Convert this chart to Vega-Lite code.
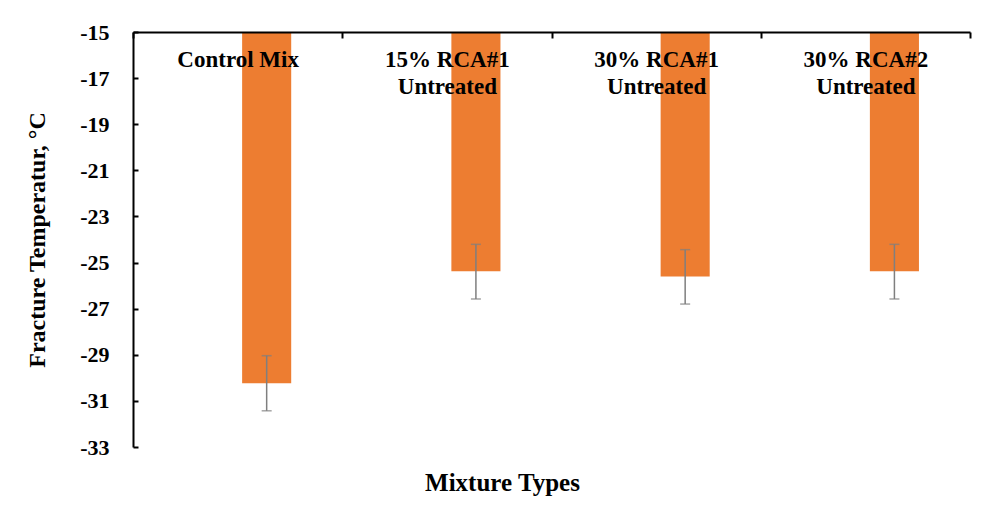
{
  "$schema": "https://vega.github.io/schema/vega-lite/v6.json",
  "autosize": "none",
  "width": 837,
  "height": 415,
  "padding": {"left": 133, "top": 32, "right": 14, "bottom": 60},
  "background": "white",
  "config": {"view": {"stroke": null}},
  "title": {"text": "Mixture Types", "orient": "bottom", "dx": -49, "offset": 13, "font": "Liberation Serif", "fontSize": 25, "fontWeight": "bold", "color": "black"},
  "data": {"values": [
    {"mixture": "Control Mix", "series": "Fracture", "temp": -30.24, "lo": -31.43, "hi": -29.04},
    {"mixture": "15% RCA#1\nUntreated", "series": "Fracture", "temp": -25.38, "lo": -26.58, "hi": -24.21},
    {"mixture": "30% RCA#1\nUntreated", "series": "Fracture", "temp": -25.61, "lo": -26.8, "hi": -24.44},
    {"mixture": "30% RCA#2\nUntreated", "series": "Fracture", "temp": -25.38, "lo": -26.58, "hi": -24.21}
  ]},
  "encoding": {
    "x": {"field": "mixture", "type": "nominal", "sort": null,
      "scale": {"paddingInner": 0, "paddingOuter": 0},
      "axis": {"orient": "top", "title": null, "zindex": 1, "domainColor": "black", "domainWidth": 2,
        "ticks": true, "tickBand": "extent", "tickColor": "black", "tickWidth": 2, "tickSize": -6,
        "labelAngle": 0, "labelBaseline": "top", "labelPadding": -10,
        "labelFont": "Liberation Serif", "labelFontSize": 23, "labelFontWeight": "bold", "labelColor": "black",
        "labelLineHeight": 27, "labelOverlap": false, "labelLimit": 0,
        "labelExpr": "split(datum.label, '\\n')"}},
    "xOffset": {"field": "series", "type": "nominal", "scale": {"domain": ["none", "Fracture"], "paddingInner": 0.155, "paddingOuter": 0.879}}
  },
  "layer": [
    {"mark": {"type": "bar", "color": "#ED7D31"},
     "encoding": {
       "y": {"field": "temp", "type": "quantitative",
         "scale": {"domain": [-33, -15], "nice": false, "zero": false},
         "axis": {"title": "Fracture  Temperatur, °C", "values": [-15, -17, -19, -21, -23, -25, -27, -29, -31, -33],
           "labelExpr": "replace(datum.label, '\u2212', '-')",
           "grid": false, "zindex": 1, "domainColor": "black", "domainWidth": 2, "tickColor": "black", "tickWidth": 2, "tickSize": -5,
           "labelPadding": 29, "labelFont": "Liberation Serif", "labelFontSize": 22, "labelFontWeight": "bold", "labelColor": "black",
           "titleFont": "Liberation Serif", "titleFontSize": 24, "titleFontWeight": "bold", "titleColor": "black", "titlePadding": 30}},
       "y2": {"datum": -15}}},
    {"mark": {"type": "rule", "color": "#7F7F7F", "strokeWidth": 1.5},
     "encoding": {"y": {"field": "lo", "type": "quantitative", "title": "Fracture  Temperatur, °C"}, "y2": {"field": "hi"}}},
    {"mark": {"type": "tick", "color": "#7F7F7F", "thickness": 1.5, "size": 10},
     "encoding": {"y": {"field": "lo", "type": "quantitative", "title": "Fracture  Temperatur, °C"}}},
    {"mark": {"type": "tick", "color": "#7F7F7F", "thickness": 1.5, "size": 10},
     "encoding": {"y": {"field": "hi", "type": "quantitative", "title": "Fracture  Temperatur, °C"}}}
  ]
}
